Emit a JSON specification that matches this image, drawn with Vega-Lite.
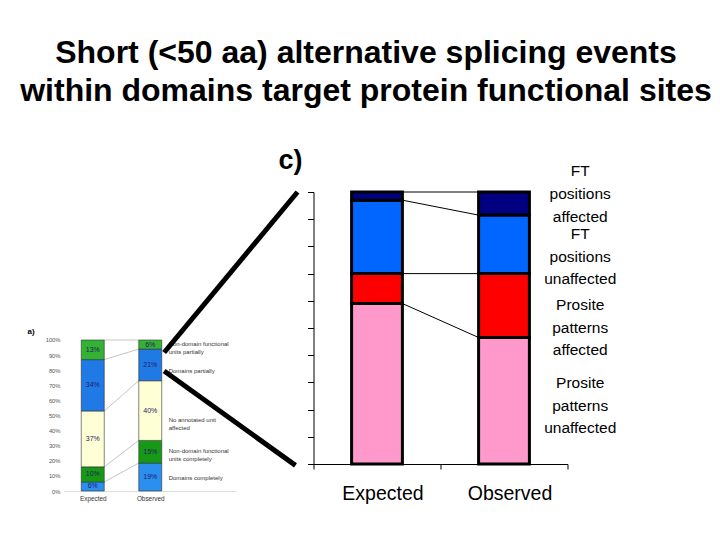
{
  "$schema": "https://vega.github.io/schema/vega-lite/v6.json",
  "padding": {"left": 20, "top": 37, "right": 5, "bottom": 5},
  "background": "white",
  "config": {"font": "Liberation Sans", "view": {"stroke": null}},
  "title": {
    "text": ["Short (<50 aa) alternative splicing events", "within domains target protein functional sites"],
    "fontSize": 32, "fontWeight": "bold", "font": "Liberation Sans", "lineHeight": 38.4,
    "anchor": "middle", "frame": "group", "dx": 302, "offset": 39, "color": "black"
  },
  "bounds": "flush",
  "spacing": 76.5,
  "resolve": {"scale": {"color": "independent"}},
  "datasets": {
    "main": [
      {"category": "Expected", "series": "Prosite patterns unaffected", "value": 59},
      {"category": "Expected", "series": "Prosite patterns affected", "value": 11},
      {"category": "Expected", "series": "FT positions unaffected", "value": 27},
      {"category": "Expected", "series": "FT positions affected", "value": 3},
      {"category": "Observed", "series": "Prosite patterns unaffected", "value": 46.5},
      {"category": "Observed", "series": "Prosite patterns affected", "value": 23.5},
      {"category": "Observed", "series": "FT positions unaffected", "value": 21.5},
      {"category": "Observed", "series": "FT positions affected", "value": 8.5}
    ],
    "mainLegend": [
      {"series": "FT positions affected", "ly": 99.5},
      {"series": "FT positions unaffected", "ly": 76.5},
      {"series": "Prosite patterns affected", "ly": 50.4},
      {"series": "Prosite patterns unaffected", "ly": 21.7}
    ],
    "inset": [
      {"category": "Expected", "unit": "Domains completely", "value": 6},
      {"category": "Expected", "unit": "Non-domain functional units completely", "value": 10},
      {"category": "Expected", "unit": "No annotated unit affected", "value": 37},
      {"category": "Expected", "unit": "Domains partially", "value": 34},
      {"category": "Expected", "unit": "Non-domain functional units partially", "value": 13},
      {"category": "Observed", "unit": "Domains completely", "value": 18.5},
      {"category": "Observed", "unit": "Non-domain functional units completely", "value": 15},
      {"category": "Observed", "unit": "No annotated unit affected", "value": 39.5},
      {"category": "Observed", "unit": "Domains partially", "value": 21},
      {"category": "Observed", "unit": "Non-domain functional units partially", "value": 6}
    ],
    "insetLegend": [
      {"text": "Non-domain functional\nunits partially", "ly": 97.4},
      {"text": "Domains partially", "ly": 79.7},
      {"text": "No annotated unit\naffected", "ly": 47},
      {"text": "Non-domain functional\nunits completely", "ly": 26.7},
      {"text": "Domains completely", "ly": 8.6}
    ],
    "diag": [
      {"xa": -0.676, "ya": 41, "xb": 0.374, "yb": 100},
      {"xa": -0.676, "ya": 34.2, "xb": 0.358, "yb": -0.5}
    ]
  },
  "hconcat": [
    {
      "width": 172.5,
      "height": 299,
      "layer": [
        {
          "data": {"name": "inset"},
          "transform": [
            {"calculate": "indexof(['Domains completely','Non-domain functional units completely','No annotated unit affected','Domains partially','Non-domain functional units partially'], datum.unit)", "as": "ord"},
            {"stack": "value", "groupby": ["category"], "sort": [{"field": "ord", "order": "ascending"}], "as": ["y0", "y1"]},
            {"pivot": "category", "value": "y1", "groupby": ["unit"]}
          ],
          "mark": {"type": "rule", "color": "#aaaaaa", "strokeWidth": 0.7, "clip": false},
          "encoding": {
            "x": {"datum": 1.2, "type": "quantitative", "scale": {"domain": [0.5, 3.5], "nice": false, "zero": false},
              "axis": {"values": [1, 2], "tickCount": 20, "labelExpr": "datum.value == 1 ? 'Expected' : 'Observed'", "ticks": false, "domain": true, "domainColor": "#dddddd", "labelFontSize": 6.4, "labelPadding": 4, "labelColor": "#333333", "title": null, "grid": false}},
            "x2": {"datum": 1.8},
            "y": {"field": "Expected", "type": "quantitative", "scale": {"domain": [0, 198], "nice": false, "zero": false},
              "axis": {"values": [0, 10, 20, 30, 40, 50, 60, 70, 80, 90, 100], "tickCount": 20, "labelExpr": "datum.value + '%'", "labelOverlap": false, "ticks": false, "domain": false, "grid": false, "labelFontSize": 5.8, "labelColor": "#555555", "labelPadding": 4, "title": null}},
            "y2": {"field": "Observed"}
          }
        },
        {
          "data": {"name": "inset"},
          "transform": [
            {"calculate": "indexof(['Domains completely','Non-domain functional units completely','No annotated unit affected','Domains partially','Non-domain functional units partially'], datum.unit)", "as": "ord"},
            {"calculate": "datum.category == 'Expected' ? 1 : 2", "as": "xc"},
            {"calculate": "datum.xc - 0.2", "as": "xl"},
            {"calculate": "datum.xc + 0.2", "as": "xr"},
            {"stack": "value", "groupby": ["category"], "sort": [{"field": "ord", "order": "ascending"}], "as": ["y0", "y1"]},
            {"calculate": "(datum.y0 + datum.y1) / 2", "as": "ym"},
            {"calculate": "format(datum.value, '.0f') + '%'", "as": "lab"}
          ],
          "layer": [
            {
              "mark": {"type": "bar", "stroke": "#333333", "strokeWidth": 0.6, "clip": false},
              "encoding": {
                "x": {"field": "xl", "type": "quantitative",
                  "axis": {"values": [1, 2], "tickCount": 20, "labelExpr": "datum.value == 1 ? 'Expected' : 'Observed'", "ticks": false, "domain": true, "domainColor": "#dddddd", "labelFontSize": 6.4, "labelPadding": 4, "labelColor": "#333333", "title": null, "grid": false}},
                "x2": {"field": "xr"},
                "y": {"field": "y0", "type": "quantitative",
                  "axis": {"values": [0, 10, 20, 30, 40, 50, 60, 70, 80, 90, 100], "tickCount": 20, "labelExpr": "datum.value + '%'", "labelOverlap": false, "ticks": false, "domain": false, "grid": false, "labelFontSize": 5.8, "labelColor": "#555555", "labelPadding": 4, "title": null}},
                "y2": {"field": "y1"},
                "color": {"field": "unit", "type": "nominal", "legend": null,
                  "scale": {"domain": ["Domains completely", "Non-domain functional units completely", "No annotated unit affected", "Domains partially", "Non-domain functional units partially"],
                    "range": ["#2b8fef", "#169a16", "#ffffd6", "#1f7ae6", "#33b233"]}}
              }
            },
            {
              "mark": {"type": "text", "fontSize": 7, "color": "#202060", "baseline": "middle", "clip": false},
              "encoding": {
                "x": {"field": "xc", "type": "quantitative"},
                "y": {"field": "ym", "type": "quantitative"},
                "text": {"field": "lab"}
              }
            }
          ]
        },
        {
          "data": {"name": "insetLegend"},
          "mark": {"type": "text", "align": "left", "baseline": "middle", "fontSize": 6, "lineHeight": 8.3, "lineBreak": "\n", "color": "#333333", "clip": false},
          "encoding": {
            "x": {"datum": 2.32, "type": "quantitative"},
            "y": {"field": "ly", "type": "quantitative"},
            "text": {"field": "text"}
          }
        },
        {
          "data": {"values": [{"t": "a)"}]},
          "mark": {"type": "text", "align": "center", "baseline": "middle", "fontSize": 8, "fontWeight": "bold", "color": "black", "clip": false},
          "encoding": {
            "x": {"datum": -0.074, "type": "quantitative"},
            "y": {"datum": 105.3, "type": "quantitative"},
            "text": {"field": "t"}
          }
        }
      ]
    },
    {
      "width": 254,
      "height": 272,
      "layer": [
        {
          "data": {"name": "main"},
          "transform": [
            {"calculate": "indexof(['Prosite patterns unaffected','Prosite patterns affected','FT positions unaffected','FT positions affected'], datum.series)", "as": "ord"},
            {"stack": "value", "groupby": ["category"], "sort": [{"field": "ord", "order": "ascending"}], "as": ["y0", "y1"]},
            {"pivot": "category", "value": "y1", "groupby": ["series"]}
          ],
          "mark": {"type": "rule", "color": "black", "strokeWidth": 1, "clip": false},
          "encoding": {
            "x": {"datum": 1.2, "type": "quantitative", "scale": {"domain": [0.5, 2.5], "nice": false, "zero": false},
              "axis": {"values": [0.5, 1, 1.5, 2, 2.5], "tickCount": 20, "labelExpr": "datum.value == 1 ? 'Expected' : datum.value == 2 ? 'Observed' : ''",
                "tickOpacity": {"condition": {"test": "datum.value == 1 || datum.value == 2", "value": 0}, "value": 1},
                "tickSize": 5, "tickColor": "black", "domainColor": "black", "labelFontSize": 19.5, "labelColor": "black",
                "labelOffset": 5.5, "labelPadding": 30, "labelBaseline": "alphabetic", "grid": false, "title": null, "labelFlush": false, "labelOverlap": false}},
            "x2": {"datum": 1.8},
            "y": {"field": "Expected", "type": "quantitative", "scale": {"domain": [0, 100], "nice": false, "zero": false},
              "axis": {"values": [0, 10, 20, 30, 40, 50, 60, 70, 80, 90, 100], "tickCount": 20, "labels": false, "tickSize": 6, "tickColor": "black", "domainColor": "black", "grid": false, "title": null}},
            "y2": {"field": "Observed"}
          }
        },
        {
          "data": {"name": "main"},
          "transform": [
            {"calculate": "indexof(['Prosite patterns unaffected','Prosite patterns affected','FT positions unaffected','FT positions affected'], datum.series)", "as": "ord"},
            {"calculate": "datum.category == 'Expected' ? 1 : 2", "as": "xc"},
            {"calculate": "datum.xc - 0.2", "as": "xl"},
            {"calculate": "datum.xc + 0.2", "as": "xr"},
            {"stack": "value", "groupby": ["category"], "sort": [{"field": "ord", "order": "ascending"}], "as": ["y0", "y1"]}
          ],
          "mark": {"type": "bar", "stroke": "black", "strokeWidth": 3, "clip": false},
          "encoding": {
            "x": {"field": "xl", "type": "quantitative",
              "axis": {"values": [0.5, 1, 1.5, 2, 2.5], "tickCount": 20, "labelExpr": "datum.value == 1 ? 'Expected' : datum.value == 2 ? 'Observed' : ''",
                "tickOpacity": {"condition": {"test": "datum.value == 1 || datum.value == 2", "value": 0}, "value": 1},
                "tickSize": 5, "tickColor": "black", "domainColor": "black", "labelFontSize": 19.5, "labelColor": "black",
                "labelOffset": 5.5, "labelPadding": 30, "labelBaseline": "alphabetic", "grid": false, "title": null, "labelFlush": false, "labelOverlap": false}},
            "x2": {"field": "xr"},
            "y": {"field": "y0", "type": "quantitative",
              "axis": {"values": [0, 10, 20, 30, 40, 50, 60, 70, 80, 90, 100], "tickCount": 20, "labels": false, "tickSize": 6, "tickColor": "black", "domainColor": "black", "grid": false, "title": null}},
            "y2": {"field": "y1"},
            "color": {"field": "series", "type": "nominal", "legend": null,
              "scale": {"domain": ["Prosite patterns unaffected", "Prosite patterns affected", "FT positions unaffected", "FT positions affected"],
                "range": ["#ff99cc", "#ff0000", "#0066ff", "#000080"]}}
          }
        },
        {
          "data": {"name": "mainLegend"},
          "transform": [{"calculate": "split(datum.series, ' ')", "as": "lines"}],
          "mark": {"type": "text", "align": "center", "baseline": "middle", "dy": -22, "fontSize": 15.5, "lineHeight": 22.7, "color": "black", "clip": false},
          "encoding": {
            "x": {"datum": 2.6, "type": "quantitative"},
            "y": {"field": "ly", "type": "quantitative"},
            "text": {"field": "lines"}
          }
        },
        {
          "data": {"name": "diag"},
          "mark": {"type": "rule", "color": "black", "strokeWidth": 5, "clip": false},
          "encoding": {
            "x": {"field": "xa", "type": "quantitative"},
            "y": {"field": "ya", "type": "quantitative"},
            "x2": {"field": "xb"},
            "y2": {"field": "yb"}
          }
        },
        {
          "data": {"values": [{"t": "c)"}]},
          "mark": {"type": "text", "align": "center", "baseline": "alphabetic", "fontSize": 27, "fontWeight": "bold", "color": "black", "clip": false},
          "encoding": {
            "x": {"datum": 0.319, "type": "quantitative"},
            "y": {"datum": 108.3, "type": "quantitative"},
            "text": {"field": "t"}
          }
        }
      ]
    }
  ]
}
